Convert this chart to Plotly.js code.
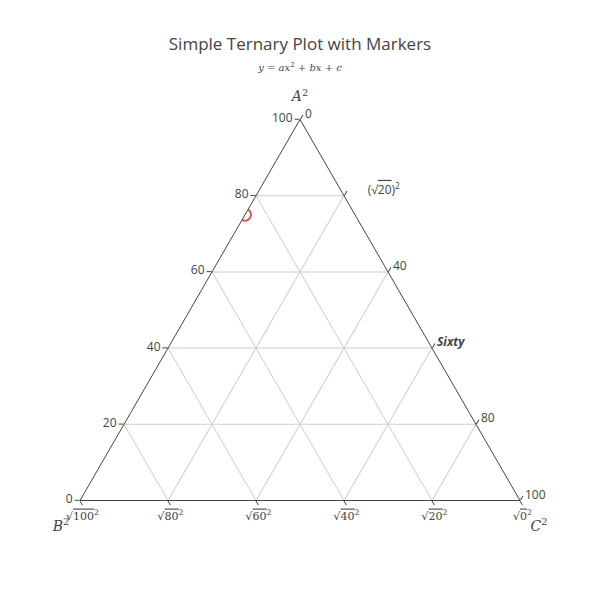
<!DOCTYPE html>
<html>
<head>
<meta charset="utf-8">
<script src="https://cdn.plot.ly/plotly-3.0.1.min.js"></script>
<style>html,body{margin:0;padding:0;background:#fff;}</style>
</head>
<body>
<div id="chart" style="width:600px;height:600px;"></div>
<script>
var aValues = [75];
var bValues = [25];
var cValues = [0];
var tickVals = [0, 20, 40, 60, 80, 100];
var bTickText = [
  "√<span style='text-decoration:overline'>0</span><sup>2</sup>",
  "√<span style='text-decoration:overline'>20</span><sup>2</sup>",
  "√<span style='text-decoration:overline'>40</span><sup>2</sup>",
  "√<span style='text-decoration:overline'>60</span><sup>2</sup>",
  "√<span style='text-decoration:overline'>80</span><sup>2</sup>",
  "√<span style='text-decoration:overline'>100</span><sup>2</sup>"
];
var cTickText = ["0", "      (√<span style='text-decoration:overline'>20</span>)<sup>2</sup>", "40", "<b><i>Sixty</i></b>", "80", "100"];

var serif = {family: "DejaVu Serif, Liberation Serif, serif", size: 14, color: "#444"};

var trace = {
  type: "scatterternary",
  mode: "markers",
  a: aValues, b: bValues, c: cValues,
  marker: {symbol: "circle-open", size: 12, color: "#e0574a", line: {width: 2}}
};

function axis(extra) {
  var base = {
    ticks: "outside", ticklen: 5, tickcolor: "#444",
    linecolor: "#444", gridcolor: "#cccccc",
    tickfont: {size: 12, color: "#444"},
    tickvals: tickVals
  };
  for (var k in extra) base[k] = extra[k];
  return base;
}

var layout = {
  width: 600, height: 600,
  title: {
    text: "Simple Ternary Plot with Markers",
    font: {size: 17, color: "#444"},
    subtitle: {text: "<i>y</i> = <i>ax</i><sup>2</sup> + <i>bx</i> + <i>c</i>", font: {family: "DejaVu Serif, Liberation Serif, serif", size: 10, color: "#444"}}
  },
  showlegend: false,
  ternary: {
    sum: 100,
    bgcolor: "#fff",
    aaxis: axis({title: {text: "<i>A</i><sup>2</sup>", font: serif}}),
    baxis: axis({title: {text: "<i>B</i><sup>2</sup>", font: serif}, ticktext: bTickText, tickfont: {family: "DejaVu Serif, Liberation Serif, serif", size: 11, color: "#444"}}),
    caxis: axis({title: {text: "<i>C</i><sup>2</sup>", font: serif}, ticktext: cTickText, tickfont: {size: 12, color: "#444"}})
  },
  paper_bgcolor: "#fff"
};

Plotly.newPlot("chart", [trace], layout, {displayModeBar: false});
</script>
</body>
</html>
